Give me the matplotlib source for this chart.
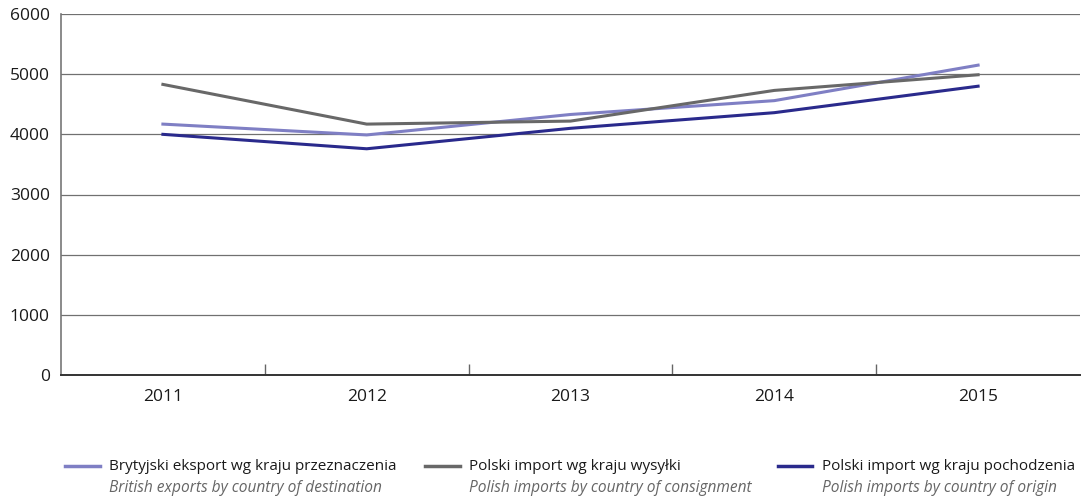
import matplotlib
matplotlib.use("Agg")
import matplotlib.pyplot as plt
from matplotlib.lines import Line2D

years = ["2011", "2012", "2013", "2014", "2015"]
british_exports = [4170, 3990, 4330, 4560, 5150]
polish_imports_consignment = [4830, 4170, 4220, 4730, 4990]
polish_imports_origin = [4000, 3760, 4100, 4360, 4800]
yticks = [0, 1000, 2000, 3000, 4000, 5000, 6000]

labels_pl = ["Brytyjski eksport wg kraju przeznaczenia",
             "Polski import wg kraju wysyłki",
             "Polski import wg kraju pochodzenia"]
labels_en = ["British exports by country of destination",
             "Polish imports by country of consignment",
             "Polish imports by country of origin"]
colors = ["#7f7fc4", "#686868", "#2a2a8c"]

plt.rcParams['font.family'] = ['Open Sans', 'DejaVu Sans']

fig = plt.figure(figsize=(10.88, 4.99), dpi=100)
ax = fig.add_axes([61/1088, 1-375/499, (1080-61)/1088, (375-14)/499])

x = list(range(len(years)))
series = [british_exports, polish_imports_consignment, polish_imports_origin]
for s, c in zip(series, colors):
    ax.plot(x, s, color=c, lw=2.2, solid_joinstyle='miter', zorder=3)

ax.set_xlim(-0.5, len(years)-0.5)
ax.set_ylim(0, 6000)
ax.set_yticks(yticks)
ax.set_yticklabels([str(v) for v in yticks], fontsize=12.5)
ax.yaxis.grid(True, color="#707070", lw=0.9)
ax.set_axisbelow(True)
ax.tick_params(axis='y', length=0, pad=8, labelcolor="#1a1a1a")

ax.set_xticks(x)
ax.set_xticklabels(years, fontsize=12.5)
ax.tick_params(axis='x', which='major', length=0, pad=10, labelcolor="#1a1a1a")
ax.set_xticks([i + 0.5 for i in range(len(years)-1)], minor=True)
ax.tick_params(axis='x', which='minor', length=8, direction='in', color="#666666", width=1.0)

for side in ['top', 'right']:
    ax.spines[side].set_visible(False)
ax.spines['left'].set_color("#777777")
ax.spines['left'].set_linewidth(1.2)
ax.spines['bottom'].set_color("#333333")
ax.spines['bottom'].set_linewidth(1.4)

# Custom legend
line_x = [(65, 100), (425, 460), (778, 812)]
text_x = [109, 469, 822]
for (x0, x1), tx, c, lp, le in zip(line_x, text_x, colors, labels_pl, labels_en):
    y_line = 1 - 466/499
    fig.add_artist(Line2D([x0/1088, x1/1088], [y_line, y_line], color=c, lw=2.5,
                          transform=fig.transFigure))
    fig.text(tx/1088, 1-466/499, lp, fontsize=11, color="#1a1a1a", va='center', ha='left')
    fig.text(tx/1088, 1-488/499, le, fontsize=11.2, color="#666666", va='center', ha='left',
             style='italic')

fig.savefig("out.png", dpi=100)
